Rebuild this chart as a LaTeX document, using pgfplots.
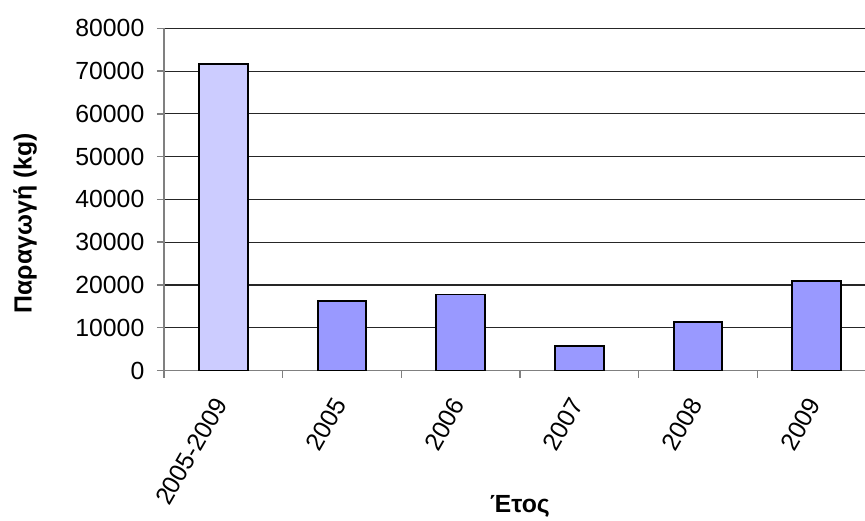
\documentclass[border=0pt]{standalone}
\usepackage{fontspec}
\setmainfont{Liberation Sans}
\usepackage{pgfplots}
\pgfplotsset{compat=1.18}
\definecolor{barA}{HTML}{CCCCFF}
\definecolor{barB}{HTML}{9999FF}
\definecolor{axgray}{HTML}{808080}
\begin{document}
\fontsize{12.4}{14.8}\selectfont
\begin{tikzpicture}
\useasboundingbox (-82pt,-74.75pt) rectangle (350.5pt,185.25pt);
\begin{axis}[
  at={(0,0)}, anchor=south west,
  scale only axis, width=356pt, height=171.1pt,
  xmin=-0.5, xmax=5.5, ymin=0, ymax=80000,
  axis x line*=bottom, axis y line*=left,
  axis line style={draw=axgray, line width=0.75pt},
  ymajorgrids, major grid style={draw=black!85, line width=0.55pt},
  xtick={0,...,5},
  xticklabels={2005-2009,2005,2006,2007,2008,2009},
  major x tick style={draw=none},
  minor xtick={-0.5,0.5,...,5.5},
  minor x tick style={draw=axgray, line width=0.75pt},
  minor tick length=3.5pt,
  major tick length=3.5pt,
  tick align=outside,
  ytick={0,10000,...,80000},
  major y tick style={draw=axgray, line width=0.75pt},
  scaled y ticks=false,
  /pgf/number format/assume math mode=true,
  /pgf/number format/set thousands separator={},
  tick label style={font=\fontsize{12.4}{14.8}\selectfont},
  yticklabel style={xshift=-2pt},
  xticklabel style={xshift=1pt, yshift=-7.5pt, rotate=60, anchor=east},
  ylabel={Παραγωγή (kg)},
  xlabel={Έτος},
  label style={font=\fontsize{12.4}{14.8}\selectfont\bfseries},
  ylabel style={at={(axis description cs:-0.195,0.43)}, anchor=center},
  xlabel style={at={(axis description cs:0.5,-0.398)}, anchor=center},
  clip=false,
]
\addplot[ybar, bar shift=0pt, bar width=0.41, fill=barA, draw=black, line width=0.85pt]
  coordinates {(0,71600)};
\addplot[ybar, bar shift=0pt, bar width=0.41, fill=barB, draw=black, line width=0.85pt]
  coordinates {(1,16300) (2,17800) (3,5700) (4,11300) (5,21000)};
\end{axis}
\end{tikzpicture}
\end{document}
